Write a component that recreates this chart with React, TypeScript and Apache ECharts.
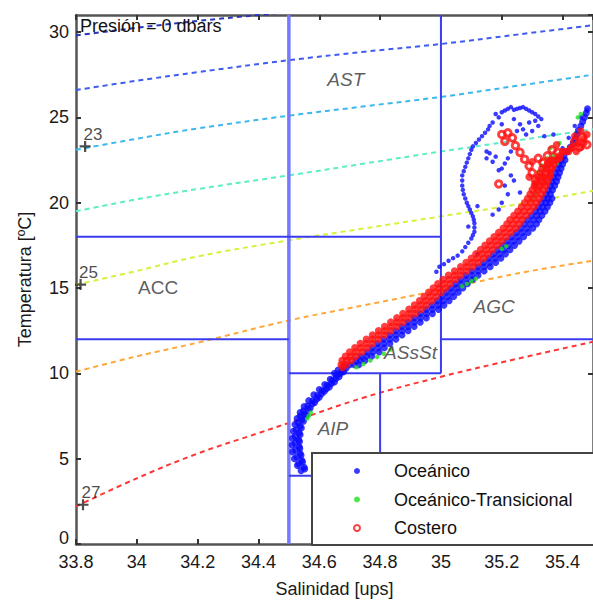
import React, { useEffect, useRef } from 'react';
import * as echarts from 'echarts';

const FONT = '"Liberation Sans", Arial, Helvetica, sans-serif';

// ---- axes ----
const salinityRange = [33.8, 35.5];
const temperatureRange = [0, 31];

// ---- isopycnals (sigma-t): [S, T] ----
const sigma21 = [[33.8, 29.8], [34.0, 30.25], [34.2, 30.65], [34.4, 31.0], [34.6, 31.35]];
const sigma22 = [[33.8, 26.6], [34.0, 27.15], [34.2, 27.65], [34.5, 28.35], [34.75, 28.85], [35.0, 29.3], [35.25, 29.85], [35.5, 30.4]];
const sigma23 = [[33.8, 23.1], [34.0, 23.75], [34.2, 24.35], [34.5, 25.1], [34.75, 25.65], [35.0, 26.2], [35.25, 26.85], [35.5, 27.5]];
const sigma24 = [[33.8, 19.5], [34.0, 20.2], [34.2, 20.8], [34.5, 21.6], [34.75, 22.3], [35.0, 23.0], [35.25, 23.65], [35.5, 24.3]];
const sigma25 = [[33.8, 15.2], [34.0, 16.0], [34.2, 16.85], [34.5, 17.8], [34.75, 18.5], [35.0, 19.2], [35.25, 19.9], [35.5, 20.7]];
const sigma26 = [[33.8, 10.1], [34.0, 11.0], [34.2, 11.8], [34.5, 13.1], [34.75, 14.0], [35.0, 14.9], [35.25, 15.85], [35.5, 16.6]];
const sigma27 = [[33.8, 2.2], [34.0, 3.85], [34.2, 5.3], [34.4, 6.5], [34.5, 7.1], [34.75, 8.6], [35.0, 9.8], [35.25, 10.85], [35.5, 11.85]];
const isopycnals = [sigma21, sigma22, sigma23, sigma24, sigma25, sigma26, sigma27];
const isopycnalColors = ['#2a36b8', '#3f5cf0', '#3cb8ee', '#5ceec4', '#d6f23a', '#ffa83a', '#ff3434'];

// isopycnal labels: [S, T, text]
const isoLabels: [number, number, string][] = [[33.83, 23.3, '23'], [33.815, 15.2, '25'], [33.823, 2.3, '27']];

// ---- water mass boxes: segments [[S,T],[S,T]] ----
const boxSegments = [
  [[34.5, 0], [34.5, 31]],
  [[35.0, 31], [35.0, 10]],
  [[33.8, 18], [35.0, 18]],
  [[33.8, 12], [34.5, 12]],
  [[35.0, 12], [35.5, 12]],
  [[34.5, 10], [35.0, 10]],
  [[34.8, 10], [34.8, 4]],
  [[34.5, 4], [34.8, 4]],
];

// water mass labels: [S, T, text]
const massLabels: [number, number, string][] = [
  [34.687, 27.2, 'AST'],
  [34.07, 15.05, 'ACC'],
  [35.175, 13.9, 'AGC'],
  [34.9, 11.2, 'ASsSt'],
  [34.645, 6.75, 'AIP'],
];
const massLabelItalic = [true, false, true, true, true];

// ---- Oceánico ----
const oceanicoTail = [
  [34.540, 4.3], [34.550, 4.5], [34.532, 4.7], [34.542, 4.9], [34.526, 5.1], [34.537, 5.3], [34.522, 5.5],
  [34.534, 5.7], [34.520, 5.9], [34.532, 6.1], [34.521, 6.3], [34.534, 6.5], [34.524, 6.7], [34.537, 6.9],
  [34.530, 7.1], [34.543, 7.3], [34.537, 7.5], [34.552, 7.6], [34.548, 7.8], [34.563, 7.9], [34.562, 8.1],
  [34.577, 8.2], [34.578, 8.4], [34.592, 8.5], [34.594, 8.7], [34.608, 8.8], [34.610, 9.0], [34.624, 9.1],
  [34.626, 9.3], [34.640, 9.4], [34.642, 9.6], [34.655, 9.7], [34.657, 9.9], [34.670, 10.0], [34.662, 10.2],
  [34.675, 10.2], [34.688, 10.3], [34.680, 10.4],
  [34.552, 4.4], [34.545, 4.8], [34.540, 5.2], [34.536, 5.6], [34.535, 6.0], [34.537, 6.4], [34.541, 6.8],
  [34.548, 7.2], [34.558, 7.55], [34.570, 7.95], [34.585, 8.3], [34.600, 8.6], [34.617, 8.95], [34.633, 9.2],
  [34.650, 9.5], [34.665, 9.8], [34.680, 10.1],
  [34.528, 4.6], [34.518, 5.0], [34.512, 5.4], [34.511, 5.8], [34.512, 6.2], [34.515, 6.6], [34.520, 7.0],
  [34.527, 7.35], [34.537, 7.7], [34.550, 8.05], [34.565, 8.4], [34.582, 8.75], [34.600, 9.05], [34.618, 9.35],
  [34.636, 9.65], [34.650, 10.0],
];
// rows: [T, S1, S2, ...]
const oceanicoBandRows = [
  [10.5, 34.700, 34.715, 34.730], [10.75, 34.720, 34.735, 34.750], [11.0, 34.737, 34.755, 34.772],
  [11.25, 34.757, 34.777, 34.797], [11.5, 34.774, 34.794, 34.814], [11.75, 34.792, 34.812, 34.832],
  [12.0, 34.812, 34.832, 34.852], [12.25, 34.832, 34.852, 34.872], [12.5, 34.852, 34.872, 34.892],
  [12.75, 34.872, 34.892, 34.912], [13.0, 34.892, 34.912, 34.932], [13.25, 34.912, 34.932, 34.952],
  [13.5, 34.932, 34.952, 34.972], [13.75, 34.952, 34.972, 34.992], [14.0, 34.970, 34.990, 35.010],
  [14.25, 34.987, 35.007, 35.027], [14.5, 35.002, 35.022, 35.042], [14.75, 35.017, 35.037, 35.057],
  [15.0, 35.032, 35.052, 35.072], [15.25, 35.047, 35.067, 35.087], [15.5, 35.064, 35.084, 35.104],
  [15.75, 35.082, 35.102, 35.122], [16.0, 35.102, 35.122, 35.142], [16.25, 35.122, 35.142, 35.162],
  [16.5, 35.140, 35.160, 35.180], [16.75, 35.157, 35.177, 35.197], [17.0, 35.172, 35.192, 35.212],
  [17.25, 35.187, 35.207, 35.227], [17.5, 35.202, 35.222, 35.242], [17.75, 35.217, 35.237, 35.257],
  [18.0, 35.232, 35.252, 35.272], [18.25, 35.247, 35.267, 35.287], [18.5, 35.262, 35.282, 35.302],
  [18.75, 35.274, 35.294, 35.314], [19.0, 35.284, 35.304, 35.322], [19.25, 35.297, 35.315, 35.332],
  [19.5, 35.310, 35.326, 35.342], [19.75, 35.320, 35.335, 35.350], [20.0, 35.330, 35.345, 35.358],
  [20.25, 35.338, 35.352, 35.365], [20.5, 35.346, 35.360], [20.75, 35.353, 35.367], [21.0, 35.360, 35.374],
  [21.25, 35.365, 35.380], [21.5, 35.370, 35.385], [21.75, 35.376, 35.390], [22.0, 35.382, 35.395],
  [22.25, 35.388, 35.400], [22.5, 35.395, 35.408], [22.75, 35.405], [23.0, 35.415], [23.25, 35.425],
  [23.5, 35.435], [23.75, 35.442], [24.0, 35.447], [24.25, 35.452], [24.5, 35.460], [24.75, 35.466],
  [25.0, 35.472], [25.25, 35.478], [25.5, 35.482],
];
const oceanicoCloud = [
  [35.19, 25.0], [35.21, 25.4], [35.23, 25.6], [35.25, 25.5], [35.27, 25.6], [35.29, 25.4], [35.31, 25.2],
  [35.33, 24.9], [35.32, 24.5], [35.30, 24.2], [35.17, 24.7], [35.155, 24.3], [35.135, 23.9], [35.115, 23.5],
  [35.10, 23.1], [35.09, 22.6], [35.08, 22.1], [35.07, 21.6], [35.07, 21.0], [35.075, 20.5], [35.085, 20.0],
  [35.095, 19.6], [35.105, 19.2], [35.11, 18.8], [35.11, 18.3], [35.10, 17.9], [35.08, 17.4], [35.055, 16.9],
  [35.025, 16.6], [34.995, 16.25], [34.985, 15.95], [35.15, 22.6], [35.17, 22.4], [35.19, 21.9], [35.21, 22.3],
  [35.21, 21.0], [35.22, 20.5], [35.23, 21.6], [35.20, 20.0], [35.17, 19.3], [35.19, 19.6], [35.24, 21.3],
  [35.26, 20.6], [35.23, 23.0], [35.26, 24.6], [35.28, 24.0], [35.20, 24.6], [35.24, 24.9], [35.38, 22.6],
  [35.40, 23.2], [35.42, 23.8], [35.44, 24.5], [35.46, 25.0], [35.48, 25.4], [35.34, 23.9], [35.37, 24.0],
  [35.12, 17.0], [35.09, 18.6], [35.12, 19.8], [35.16, 22.9],
  [35.18, 25.2], [35.20, 25.3], [35.22, 25.5], [35.24, 25.45], [35.26, 25.55], [35.28, 25.5], [35.30, 25.3],
  [35.32, 25.05], [35.16, 24.5], [35.145, 24.1], [35.125, 23.7], [35.105, 23.3], [35.095, 22.85],
  [35.085, 22.35], [35.075, 21.85], [35.07, 21.3], [35.072, 20.75], [35.08, 20.25], [35.09, 19.8],
  [35.10, 19.4], [35.108, 19.0], [35.11, 18.55], [35.105, 18.1], [35.09, 17.65], [35.07, 17.15],
  [35.04, 16.75], [35.01, 16.4], [35.15, 23.0], [35.18, 22.7], [35.20, 22.0], [35.22, 22.6],
  [35.25, 24.2], [35.27, 24.3], [35.29, 24.7], [35.31, 24.8],
];

// ---- Oceánico-Transicional ----
const transicional = [
  [34.565, 7.5], [34.572, 7.7], [34.560, 7.35],
  [34.722, 10.35], [34.745, 10.55], [34.768, 10.75], [34.790, 10.95], [34.812, 11.15], [34.835, 11.4],
  [35.070, 15.1], [35.085, 15.25], [35.100, 15.4], [35.115, 15.55],
  [35.200, 17.3], [35.215, 17.45],
  [35.300, 20.2], [35.310, 20.5], [35.320, 21.8], [35.330, 22.2], [35.350, 22.6], [35.370, 22.8],
  [35.380, 22.3], [35.360, 23.2], [35.340, 22.0], [35.450, 25.0], [35.460, 25.2], [35.390, 23.5],
];

// ---- Costero ----
const costeroBandRows = [
  [10.35, 34.676], [10.5, 34.688, 34.672], [10.75, 34.705, 34.690, 34.675], [11.0, 34.720, 34.703, 34.686],
  [11.25, 34.740, 34.720, 34.700], [11.5, 34.757, 34.737, 34.717], [11.75, 34.775, 34.755, 34.735],
  [12.0, 34.795, 34.775, 34.755], [12.25, 34.815, 34.795, 34.775], [12.5, 34.835, 34.815, 34.795],
  [12.75, 34.855, 34.835, 34.815], [13.0, 34.875, 34.855, 34.835], [13.25, 34.895, 34.875, 34.855],
  [13.5, 34.915, 34.895, 34.875], [13.75, 34.935, 34.915, 34.895], [14.0, 34.953, 34.933, 34.913],
  [14.25, 34.970, 34.950, 34.930], [14.5, 34.985, 34.965, 34.945], [14.75, 35.000, 34.980, 34.960],
  [15.0, 35.015, 34.995, 34.975], [15.25, 35.030, 35.010, 34.990], [15.5, 35.047, 35.027, 35.007],
  [15.75, 35.065, 35.045, 35.025], [16.0, 35.085, 35.065, 35.045], [16.25, 35.105, 35.085, 35.065],
  [16.5, 35.123, 35.103, 35.083], [16.75, 35.140, 35.120, 35.100], [17.0, 35.155, 35.135, 35.115],
  [17.25, 35.170, 35.150, 35.130], [17.5, 35.185, 35.165, 35.145], [17.75, 35.200, 35.180, 35.160],
  [18.0, 35.215, 35.195, 35.175], [18.25, 35.230, 35.210, 35.190], [18.5, 35.245, 35.225, 35.205],
  [18.75, 35.257, 35.237, 35.217], [19.0, 35.267, 35.247, 35.227], [19.25, 35.280, 35.260, 35.240],
  [19.5, 35.293, 35.273, 35.253], [19.75, 35.305, 35.285, 35.265], [20.0, 35.315, 35.295, 35.275],
  [20.25, 35.323, 35.303, 35.285], [20.5, 35.331, 35.311, 35.293], [20.75, 35.338, 35.318, 35.300],
  [21.0, 35.345, 35.325, 35.307], [21.25, 35.350, 35.332, 35.314], [21.5, 35.355, 35.338, 35.320],
  [21.75, 35.360, 35.343, 35.326], [22.0, 35.365, 35.348, 35.332], [22.25, 35.372, 35.355],
  [22.5, 35.380, 35.362], [22.75, 35.390], [23.0, 35.400, 35.420, 35.445], [23.25, 35.430, 35.460],
  [23.5, 35.450, 35.470], [23.75, 35.470], [24.0, 35.480],
];
const costeroBlob = [
  [35.31, 21.1], [35.33, 21.5], [35.34, 21.2], [35.35, 22.3], [35.37, 22.5], [35.39, 22.6],
  [35.41, 23.0], [35.43, 23.2], [35.38, 23.4], [35.36, 21.6], [35.30, 22.4], [35.29, 21.5],
  [35.44, 23.9], [35.46, 24.2],
];
const costeroExtra = [
  [35.21, 23.6], [35.22, 24.1], [35.235, 23.8], [35.245, 23.35], [35.26, 22.95], [35.275, 22.55],
  [35.29, 22.15], [35.30, 21.75], [35.31, 21.35], [35.32, 20.95], [35.19, 21.1], [35.335, 22.35],
  [35.35, 22.75], [35.365, 23.1], [35.385, 22.95], [35.345, 21.7], [35.36, 22.05], [35.32, 22.6],
  [35.20, 24.0], [35.44, 23.6], [35.465, 23.85], [35.455, 23.25], [35.48, 23.4],
];

const legendNames = ['Oceánico', 'Oceánico-Transicional', 'Costero'];
const titleText = 'Presión = 0 dbars';
const xName = 'Salinidad [ups]';
const yName = 'Temperatura [ºC]';

function rowsToPoints(rows: number[][]) {
  const out: number[][] = [];
  rows.forEach((r) => {
    for (let i = 1; i < r.length; i++) out.push([r[i], r[0]]);
  });
  return out;
}

export default function App() {
  const ref = useRef<HTMLDivElement>(null);

  useEffect(() => {
    if (!ref.current) return;
    const chart = echarts.init(ref.current, undefined, { renderer: 'svg' });

    const axisText = { color: '#1a1a1a', fontSize: 18, fontFamily: FONT };
    const series: any[] = [];

    isopycnals.forEach((pts, i) => {
      series.push({
        type: 'line',
        name: 'iso' + i,
        data: pts,
        smooth: 0.4,
        showSymbol: false,
        silent: true,
        z: 1,
        lineStyle: { color: isopycnalColors[i], width: 2, type: [5, 4] },
      });
    });

    boxSegments.forEach((seg, i) => {
      series.push({
        type: 'line',
        name: 'box' + i,
        data: seg,
        showSymbol: false,
        silent: true,
        z: 2,
        lineStyle: i === 0 ? { color: '#7878ff', width: 3.5 } : { color: '#3b3bf0', width: 2 },
      });
    });

    const blue = '#0a0aff';
    const red = '#ff1010';
    series.push({
      type: 'scatter',
      name: legendNames[0],
      data: [...oceanicoTail, ...rowsToPoints(oceanicoBandRows)],
      symbol: 'circle',
      symbolSize: 7,
      itemStyle: { color: blue },
      z: 3,
    });
    series.push({
      type: 'scatter',
      name: legendNames[0],
      data: oceanicoCloud,
      symbol: 'circle',
      symbolSize: 4.5,
      itemStyle: { color: blue },
      z: 3,
    });
    series.push({
      type: 'scatter',
      name: legendNames[1],
      data: transicional,
      symbol: 'circle',
      symbolSize: 4.5,
      itemStyle: { color: '#1fe01f' },
      z: 3,
    });
    series.push({
      type: 'scatter',
      name: legendNames[2],
      data: [...rowsToPoints(costeroBandRows), ...costeroBlob],
      symbol: 'circle',
      symbolSize: 7.5,
      itemStyle: { color: red },
      z: 3,
    });
    series.push({
      type: 'scatter',
      name: legendNames[2],
      data: costeroExtra,
      symbol: 'circle',
      symbolSize: 6.5,
      itemStyle: { color: 'rgba(0,0,0,0)', borderColor: red, borderWidth: 3 },
      z: 3,
    });

    series.push({
      type: 'scatter',
      name: 'isoLabels',
      data: isoLabels.map(([s, t]) => [s, t]),
      symbol: 'path://M4,0H6V4H10V6H6V10H4V6H0V4H4Z',
      symbolSize: 11,
      itemStyle: { color: '#222' },
      silent: true,
      z: 6,
      label: {
        show: true,
        position: [4, -15],
        formatter: (p: any) => isoLabels[p.dataIndex][2],
        fontSize: 17,
        color: '#1a1a1a',
        fontFamily: FONT,
      },
    });

    series.push({
      type: 'scatter',
      name: 'massLabels',
      data: massLabels.map(([s, t], i) => ({
        value: [s, t],
        label: { fontStyle: massLabelItalic[i] ? 'italic' : 'normal' },
      })),
      symbol: 'circle',
      symbolSize: 1,
      itemStyle: { color: 'rgba(0,0,0,0)' },
      silent: true,
      z: 6,
      label: {
        show: true,
        position: 'inside',
        formatter: (p: any) => massLabels[p.dataIndex][2],
        fontSize: 19,
        color: '#333',
        fontFamily: FONT,
      },
    });

    const option: any = {
      animation: false,
      backgroundColor: '#fff',
      title: {
        text: titleText,
        left: 80,
        top: 17,
        padding: 0,
        textStyle: { fontSize: 18, fontWeight: 'normal', color: '#111', fontFamily: FONT },
      },
      grid: { left: 76, top: 15, right: -2, bottom: 58, containLabel: false },
      xAxis: [
        {
          type: 'value',
          min: salinityRange[0],
          max: salinityRange[1],
          interval: 0.2,
          position: 'bottom',
          axisLine: { show: true, onZero: false, lineStyle: { color: '#555', width: 2.5 } },
          axisTick: { show: true, inside: true, length: 5, lineStyle: { color: '#333', width: 2 } },
          axisLabel: { ...axisText, margin: 9, showMaxLabel: false, showMinLabel: true },
          splitLine: { show: false },
          name: xName,
          nameLocation: 'middle',
          nameGap: 36,
          nameTextStyle: { ...axisText },
        },
        {
          type: 'value',
          min: salinityRange[0],
          max: salinityRange[1],
          interval: 0.2,
          position: 'top',
          axisLine: { show: true, onZero: false, lineStyle: { color: '#555', width: 2.5 } },
          axisTick: { show: true, inside: true, length: 5, lineStyle: { color: '#333', width: 2 } },
          axisLabel: { show: false },
          splitLine: { show: false },
        },
      ],
      yAxis: [
        {
          type: 'value',
          min: temperatureRange[0],
          max: temperatureRange[1],
          interval: 5,
          position: 'left',
          axisLine: { show: true, onZero: false, lineStyle: { color: '#555', width: 2.5 } },
          axisTick: { show: true, inside: true, length: 5, lineStyle: { color: '#333', width: 2 } },
          axisLabel: {
            ...axisText,
            margin: 7,
            showMaxLabel: false,
            formatter: (v: number) => (v === 0 ? '{z|0}' : String(v)),
            rich: { z: { ...axisText, padding: [0, 0, 12, 0] } },
          },
          splitLine: { show: false },
          name: yName,
          nameLocation: 'middle',
          nameGap: 42,
          nameRotate: 90,
          nameTextStyle: { ...axisText },
        },
        {
          type: 'value',
          min: temperatureRange[0],
          max: temperatureRange[1],
          interval: 5,
          position: 'right',
          axisLine: { show: true, onZero: false, lineStyle: { color: '#555', width: 2.5 } },
          axisTick: { show: true, inside: true, length: 5, lineStyle: { color: '#333', width: 2 } },
          axisLabel: { show: false },
          splitLine: { show: false },
        },
      ],
      legend: {
        orient: 'vertical',
        left: 312,
        top: 453,
        padding: [9, 40, 8, 41],
        itemWidth: 6,
        itemHeight: 14,
        itemGap: 10.5,
        selectedMode: false,
        backgroundColor: '#fff',
        borderColor: '#444',
        borderWidth: 2,
        textStyle: { fontSize: 18, lineHeight: 18, color: '#111', fontFamily: FONT, padding: [0, 0, 0, 29] },
        data: [
          { name: legendNames[0], icon: 'circle', itemStyle: { color: blue } },
          { name: legendNames[1], icon: 'circle', itemStyle: { color: '#1fe01f' } },
          { name: legendNames[2], icon: 'circle', itemStyle: { color: '#fff', borderColor: red, borderWidth: 2 } },
        ],
        z: 10,
      },
      series,
    };

    chart.setOption(option);
    return () => chart.dispose();
  }, []);

  return <div ref={ref} style={{ position: 'absolute', left: 0, top: 0, width: 593, height: 603 }} />;
}
